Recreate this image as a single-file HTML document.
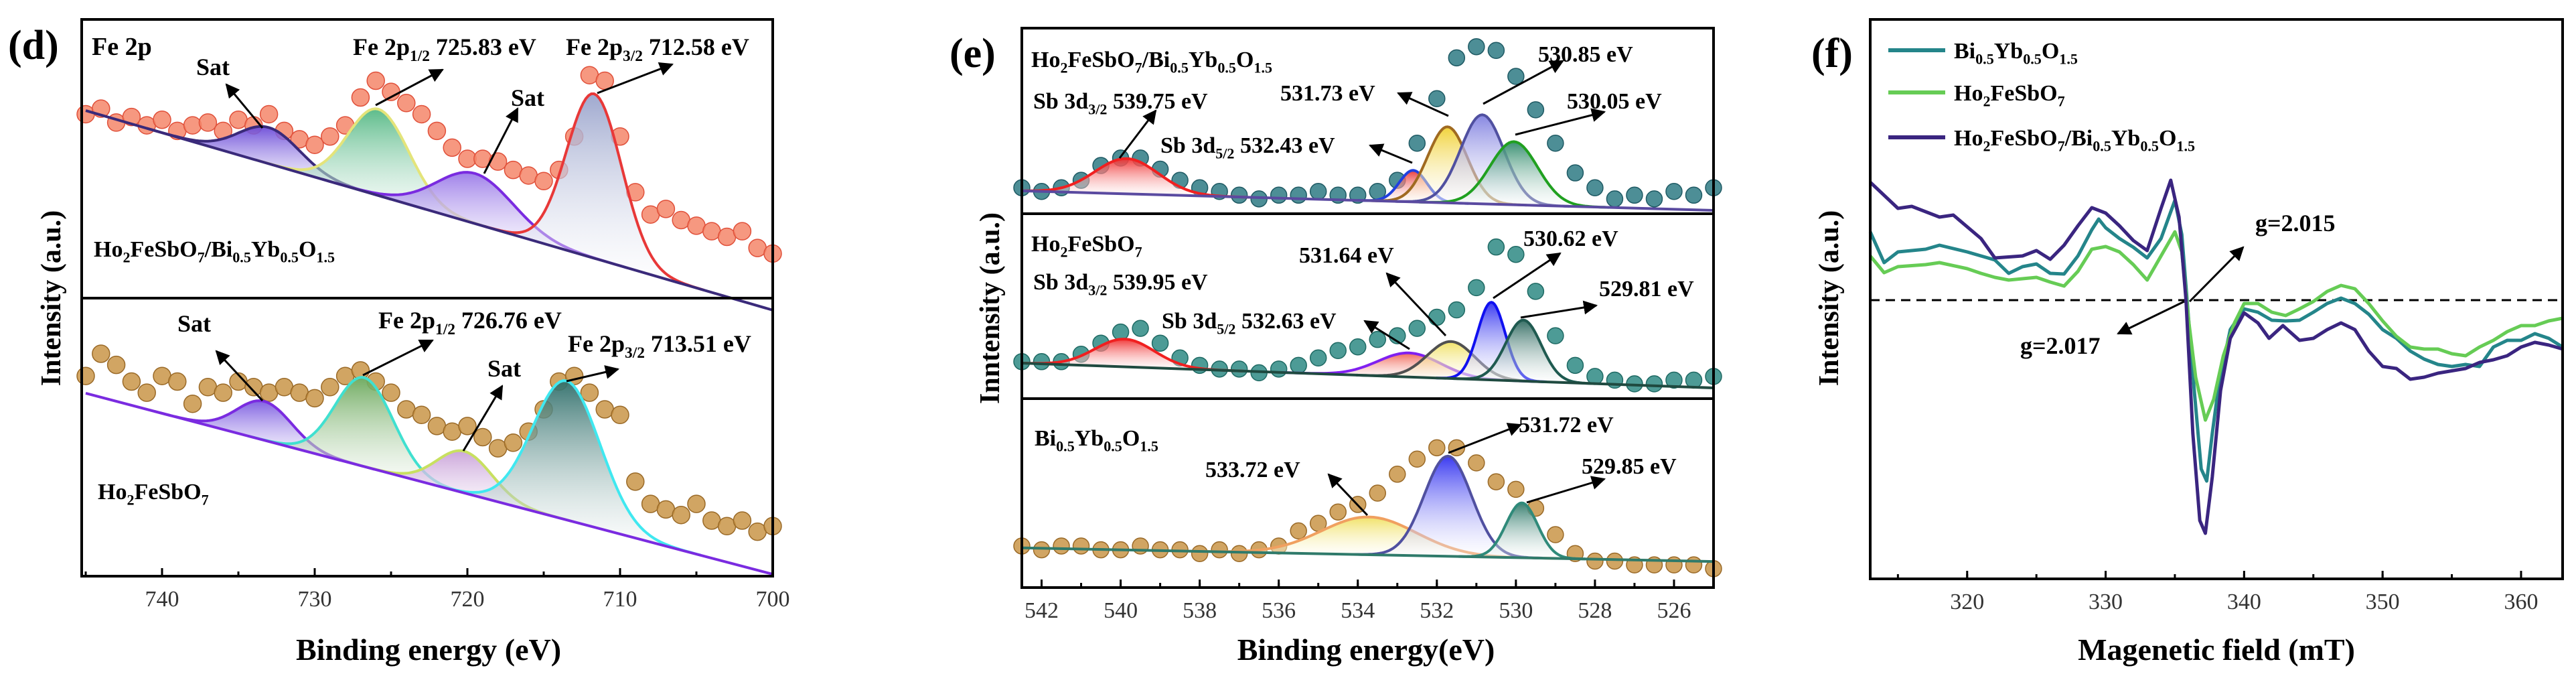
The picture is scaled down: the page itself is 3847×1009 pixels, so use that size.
<!DOCTYPE html>
<html><head><meta charset="utf-8"><style>
html,body{margin:0;padding:0;background:#fff;}
svg{display:block;}
svg text, svg tspan{font-family:"Liberation Serif","Times New Roman","Nimbus Roman","DejaVu Serif",serif !important;}
</style></head><body>
<svg id="fig" width="3847" height="1009" viewBox="0 0 3847 1009" xmlns="http://www.w3.org/2000/svg">
<defs>
<marker id="ah" viewBox="0 0 10 10" refX="9" refY="5" markerWidth="7" markerHeight="7" orient="auto-start-reverse"><path d="M0,0 L10,5 L0,10 z" fill="#000"/></marker>
</defs>
</svg>
<script>
// ---------- DATA ----------
const dEnergy = [745,744,743,742,741,740,739,738,737,736,735,734,733,732,731,730,729,728,727,726,725,724,723,722,721,720,719,718,717,716,715,714,713,712,711,710,709,708,707,706,705,704,703,702,701,700];
const dTopData = [66,68,63,65,62,64,60,62,63,60,64,62,66,60,57,55,58,62,72,78,74,70,66,60,54,50,50,49,46,44,42,46,58,80,78,58,38,30,32,28,26,24,22,24,18,16];
const dBotData = [72,80,76,70,66,72,70,62,68,66,70,68,66,68,66,64,68,72,74,70,66,60,58,54,52,54,50,46,48,52,60,70,72,66,60,58,34,26,24,22,26,20,18,20,16,18];
const dTopBase = [67.3,-4.3];
const dBotBase = [65.8,0.7];
const dTopCenters = [733,725.83,719.5,711.7];
const dTopHeights = [13,31,18,59];
const dTopWidths = [2.0,2.0,2.5,1.8];
const dBotCenters = [733.3,726.76,720.2,713.51];
const dBotHeights = [14,32,15,50];
const dBotWidths = [1.8,1.9,1.8,2.2];
const dTicks = [740,730,720,710,700];
const dTickLabels = ["740","730","720","710","700"];

const eEnergy = [542.5,542,541.5,541,540.5,540,539.5,539,538.5,538,537.5,537,536.5,536,535.5,535,534.5,534,533.5,533,532.5,532,531.5,531,530.5,530,529.5,529,528.5,528,527.5,527,526.5,526,525.5,525];
const eTopData = [14,12,14,18,26,30,30,24,18,14,12,10,8,10,10,12,10,10,12,18,38,62,84,90,88,74,56,38,22,14,8,10,8,12,10,14];
const eMidData = [20,20,20,24,30,36,38,30,22,18,16,16,14,16,18,22,26,28,32,34,38,44,48,60,82,78,58,34,18,12,10,8,8,10,10,12];
const eBotData = [22,20,22,22,20,20,22,20,20,18,20,18,20,22,30,34,40,44,50,60,68,74,74,66,56,52,42,28,18,14,14,12,12,12,12,10];
const eTopBase = [12.3,1.8];
const eMidBase = [19.2,5.8];
const eBotBase = [21,13.8];
const eTopCenters = [539.85,532.6,531.73,530.85,530.05];
const eTopHeights = [19,17,41,48,34];
const eTopWidths = [0.8,0.35,0.5,0.55,0.6];
const eMidCenters = [539.9,532.7,531.64,530.62,529.81];
const eMidHeights = [15,13,20,42,33];
const eMidWidths = [0.75,0.8,0.6,0.35,0.45];
const eBotCenters = [533.72,531.72,529.85];
const eBotHeights = [20,53,29];
const eBotWidths = [1.2,0.6,0.4];
const eTicks = [542,540,538,536,534,532,530,528,526];
const eTickLabels = ["542","540","538","536","534","532","530","528","526"];

const fPurpleX = [313,315,316,318,319,321,322,324,325,326,327,328,329,330,331,332,333,334,334.7,335.3,335.8,336.3,336.8,337.2,337.7,338.3,339,340,341,341.8,342.8,344,345,346,347,348,349,350,351,352,353,354,356,357,358,359,360,361,362,363];
const fPurpleY = [17.6,13.7,14,12.4,12.7,9.2,6.3,6.6,7.4,6.1,8.2,11.1,13.8,13,11.1,8.9,7.4,13.7,17.9,12.4,0.1,-19.9,-32.9,-34.8,-26.4,-13.5,-5.7,-1.9,-3.4,-5.7,-3.8,-6,-5.7,-4.4,-3.4,-4.4,-7.6,-9.9,-10.2,-11.8,-11.5,-10.9,-10.2,-9.3,-8.9,-8.3,-7,-6.3,-6.7,-7.3];
const fTealX = [313,314,315,317,318,320,321,322,323,324,325,326,327,328,329,329.5,330,331,332,333,334,335,335.5,335.9,336.4,336.9,337.3,337.7,338.2,339,340,341,342,343,344,345,346,347,348,349,350,351,352,353,354,355,356,357,358,359,360,361,362,363];
const fTealY = [10.2,5.6,7.2,7.6,8.2,7.2,6.6,6,4,5,5.4,4,3.9,6.6,10.5,12.1,10.8,9.2,7.9,6.3,9.2,14.9,9.8,-0.5,-13.5,-25.2,-27,-19.9,-12.2,-4.4,-1.3,-1.8,-3,-3.1,-3,-1.8,-0.5,0.3,-0.5,-2.1,-4.4,-5.7,-7.6,-8.8,-9.6,-9.9,-9.6,-9.9,-7,-6,-6,-5,-5.7,-7];
const fGreenX = [313,314,315,317,318,320,321,322,323,325,326,327,328,329,330,331,332,333,334,335,335.5,336,336.5,337.2,337.8,338.5,339.3,340,341,342,343,344,345,346,347,348,349,350,351,352,353,354,355,356,357,358,359,360,361,362,363];
const fGreenY = [6.6,4.1,5,5.3,5.6,4.7,4,3.4,3,3.4,2.7,2.1,4.3,7.6,8,7.2,5.3,3,6.6,10.2,7.2,-3.1,-11.5,-17.9,-14.8,-8.3,-3.4,-0.5,-0.5,-1.8,-2.3,-1.3,-0.2,1.3,2.2,1.7,-0.5,-3.1,-5.4,-7,-7.3,-7.3,-8,-8.3,-7,-6,-4.7,-3.8,-3.8,-3.1,-2.7];
const fTicks = [320,330,340,350,360];
const fTickLabels = ["320","330","340","350","360"];

// ---------- DRAWING ----------
const NS = "http://www.w3.org/2000/svg";
const SERIF = "'Liberation Serif', 'Times New Roman', 'DejaVu Serif', serif";
const svg = document.getElementById('fig');
function el(tag, attrs, parent){ const e=document.createElementNS(NS,tag); for(const k in attrs) e.setAttribute(k,attrs[k]); (parent||svg).appendChild(e); return e; }
function lin(d0,d1,r0,r1){ return v => r0 + (v-d0)/(d1-d0)*(r1-r0); }
function gauss(x,c,h,w){ return h*Math.exp(-0.5*((x-c)/w)**2); }
let gid=0;
function grad(color){ const g=el('linearGradient',{id:'g'+(++gid),x1:0,y1:0,x2:0,y2:1},svg.querySelector('defs')); el('stop',{offset:'0','stop-color':color,'stop-opacity':'0.95'},g); el('stop',{offset:'1','stop-color':'#ffffff','stop-opacity':'0.3'},g); return 'url(#g'+gid+')'; }

function drawSub(name, energies, data, base, centers, heights, widths, xs, ys, ptFill, ptStroke, fills, edges, baseColor, r){
  const g = el('g',{});  
  const e0=energies[0], e1=energies[energies.length-1];
  const bl = v => base[0] + (v-e0)/(e1-e0)*(base[1]-base[0]);
  const pg = el('g',{},g);  
  for(let i=0;i<energies.length;i++){
    const c = el('circle',{cx:xs(energies[i]),cy:ys(data[i]),r:r,fill:ptFill,stroke:ptStroke,'stroke-width':1.5,'fill-opacity':0.85},pg);
    
    
  }
  for(let k=0;k<centers.length;k++){
    const c=centers[k],h=heights[k],w=widths[k];
    const lo=Math.max(Math.min(e0,e1),c-4*w), hi=Math.min(Math.max(e0,e1),c+4*w);
    let top=[], bot=[];
    for(let s=0;s<=80;s++){ const x=lo+(hi-lo)*s/80; top.push(xs(x).toFixed(1)+','+ys(bl(x)+gauss(x,c,h,w)).toFixed(1)); bot.push(xs(x).toFixed(1)+','+ys(bl(x)).toFixed(1)); }
    const a = el('polygon',{points:top.concat(bot.reverse()).join(' '),fill:grad(fills[k]),stroke:'none'},g);
    
    
    const l = el('polyline',{points:top.join(' '),fill:'none',stroke:edges[k],'stroke-width':4},g);
    
    
  }
  const b = el('line',{x1:xs(e0),y1:ys(bl(e0)),x2:xs(e1),y2:ys(bl(e1)),stroke:baseColor,'stroke-width':4},g);
  
  
}

function text(str, x, y, size, opts){
  opts=opts||{};
  const t = el('text',{x:x,y:y,'font-size':size,'font-weight':opts.w||'bold','text-anchor':opts.a||'start',fill:'#000'});
  t.style.fontFamily = SERIF;
  if(opts.rot) t.setAttribute('transform','rotate(-90 '+x+' '+y+')');
  const parts = str.split(/(_\{[^}]*\})/);
  parts.forEach(p=>{
    if(!p) return;
    if(p.startsWith('_{')){ const s=el('tspan',{'font-size':size*0.65,dy:size*0.25},t); s.textContent=p.slice(2,-1); const s2=el('tspan',{'font-size':size,dy:-size*0.25},t); s2.textContent='\u200b'; }
    else { const s=el('tspan',{},t); s.textContent=p; }
  });
  
  
  return t;
}
function arrow(x1,y1,x2,y2){ const a=el('line',{x1:x1,y1:y1,x2:x2,y2:y2,stroke:'#000','stroke-width':3,'marker-end':'url(#ah)'});   }
function frame(name,x0,y0,x1,y1){ const r=el('rect',{x:x0,y:y0,width:x1-x0,height:y1-y0,fill:'none',stroke:'#000','stroke-width':4});   }
function xAxis(name,xs,ticks,labels,minor,y,lo,hi){
  const g=el('g',{});  
  ticks.forEach((v,i)=>{ el('line',{x1:xs(v),y1:y,x2:xs(v),y2:y-12,stroke:'#000','stroke-width':3},g);
    const t=el('text',{x:xs(v),y:y+45,'font-size':34,'text-anchor':'middle',fill:'#333'},g); t.style.fontFamily=SERIF; t.textContent=labels[i];   });
  for(let v=lo; v<=hi+1e-9; v+=minor){ el('line',{x1:xs(v),y1:y,x2:xs(v),y2:y-7,stroke:'#000','stroke-width':3},g); }
}

// ===== Panel d =====
const xd = lin(745,700,128,1154);
const ydT = lin(0,100,445,29), ydB = lin(0,100,860,445);
drawSub('d-top-spectrum',dEnergy,dTopData,dTopBase,dTopCenters,dTopHeights,dTopWidths,xd,ydT,'#f5866a','#e0503a',['#6a4ad8','#54b884','#9a7ae8','#9aa4cc'],['#3a2a7a','#e4e47a','#7a2be0','#e83838'],'#3a2a7a',13);
drawSub('d-bottom-spectrum',dEnergy,dBotData,dBotBase,dBotCenters,dBotHeights,dBotWidths,xd,ydB,'#c99548','#9a6a28',['#7a5ae0','#6aa85a','#c8a0d8','#2f6e6a'],['#7a2be0','#40e0d0','#c8e060','#40e8f0'],'#7a2be0',13);
frame('d-frame',122,29,1154,860);
el('line',{x1:122,y1:445,x2:1154,y2:445,stroke:'#000','stroke-width':4});
xAxis('d-x-axis',xd,dTicks,dTickLabels,5,860,700,745);
text('(d)',12,88,62,{name:'panel-label-d'});
text('Fe 2p',137,82,38,{name:'d-title'});
text('Fe 2p_{1/2} 725.83 eV',527,82,36);
text('Fe 2p_{3/2} 712.58 eV',845,82,36);
text('Sat',293,112,36); text('Sat',763,158,36);
text('Ho_{2}FeSbO_{7}/Bi_{0.5}Yb_{0.5}O_{1.5}',140,383,34,{name:'d-sample-label-composite'});
text('Sat',265,495,36);
text('Fe 2p_{1/2} 726.76 eV',565,490,36);
text('Sat',728,562,36);
text('Fe 2p_{3/2} 713.51 eV',848,525,36);
text('Ho_{2}FeSbO_{7}',146,745,34,{name:'d-sample-label'});
arrow(392,191,338,126); arrow(561,157,661,104); arrow(723,259,773,162); arrow(892,139,1004,96);
arrow(392,598,323,524); arrow(542,560,646,508); arrow(692,673,750,576); arrow(846,569,923,551);
text('Intensity (a.u.)',90,445,42,{rot:true,a:'middle',name:'d-y-axis-title'});
text('Binding energy (eV)',640,985,46,{a:'middle',name:'d-x-axis-title'});

// ===== Panel e =====
const xe = lin(542.5,525,1526,2559);
const yeT = lin(0,100,319,42), yeM = lin(0,100,595,319), yeB = lin(0,100,877,595);
drawSub('e-top-spectrum',eEnergy,eTopData,eTopBase,eTopCenters,eTopHeights,eTopWidths,xe,yeT,'#2e7a84','#1f5a64',['#f03030','#e83030','#f0d030','#8080e0','#2f8a6a'],['#f02020','#2040e0','#a06a20','#5050a0','#20a020'],'#5a4aa0',12);
drawSub('e-mid-spectrum',eEnergy,eMidData,eMidBase,eMidCenters,eMidHeights,eMidWidths,xe,yeM,'#2e8a84','#1f6a64',['#f03030','#f06050','#f0e060','#3030f0','#2f6a60'],['#f02020','#8020f0','#505050','#1010f0','#1f5a50'],'#1f4a40',12);
drawSub('e-bottom-spectrum',eEnergy,eBotData,eBotBase,eBotCenters,eBotHeights,eBotWidths,xe,yeB,'#c99548','#9a6a28',['#f0e060','#3030f0','#2f7a6a'],['#f0a060','#5050a0','#2f8a7a'],'#2f7a6a',12);
frame('e-frame',1526,42,2559,877);
el('line',{x1:1526,y1:319,x2:2559,y2:319,stroke:'#000','stroke-width':4});
el('line',{x1:1526,y1:595,x2:2559,y2:595,stroke:'#000','stroke-width':4});
xAxis('e-x-axis',xe,eTicks,eTickLabels,1,877,525,542);
text('(e)',1418,100,62,{name:'panel-label-e'});
text('Ho_{2}FeSbO_{7}/Bi_{0.5}Yb_{0.5}O_{1.5}',1540,100,34);
text('Sb 3d_{3/2} 539.75 eV',1543,162,34);
text('Sb 3d_{5/2} 532.43 eV',1733,228,34);
text('531.73 eV',1912,150,34); text('530.85 eV',2297,92,34); text('530.05 eV',2340,162,34);
text('Ho_{2}FeSbO_{7}',1540,375,34);
text('Sb 3d_{3/2} 539.95 eV',1543,432,34);
text('Sb 3d_{5/2} 532.63 eV',1735,490,34);
text('531.64 eV',1940,392,34); text('530.62 eV',2275,367,34); text('529.81 eV',2388,442,34);
text('Bi_{0.5}Yb_{0.5}O_{1.5}',1545,665,34);
text('533.72 eV',1800,712,34); text('531.72 eV',2268,645,34); text('529.85 eV',2362,707,34);
arrow(1672,236,1726,165); arrow(2109,243,2046,217); arrow(2163,173,2088,139); arrow(2215,155,2334,91); arrow(2263,201,2396,167);
arrow(2105,521,2038,479); arrow(2159,501,2071,408); arrow(2230,445,2330,378); arrow(2271,474,2384,456);
arrow(2042,769,1984,708); arrow(2163,676,2271,634); arrow(2280,750,2396,715);
text('Inntensity (a.u.)',1492,460,42,{rot:true,a:'middle',name:'e-y-axis-title'});
text('Binding energy(eV)',2040,985,46,{a:'middle',name:'e-x-axis-title'});

// ===== Panel f =====
const xf = lin(313,363,2793,3827);
const yf = lin(0,10,448,348);
const zl = el('line',{x1:2793,y1:yf(0),x2:3827,y2:yf(0),stroke:'#000','stroke-width':3,'stroke-dasharray':'14,9'});
 
function fLine(name,xsArr,ysArr,color){ const p=el('polyline',{points:xsArr.map((v,i)=>xf(v).toFixed(1)+','+yf(ysArr[i]).toFixed(1)).join(' '),fill:'none',stroke:color,'stroke-width':5,'stroke-linejoin':'round'});   }
fLine('series-bi-yb-o',fTealX,fTealY,'#24858a');
fLine('series-ho2fesbo7',fGreenX,fGreenY,'#66cc55');
fLine('series-composite',fPurpleX,fPurpleY,'#3a2580');
frame('f-frame',2793,29,3827,864);
xAxis('f-x-axis',xf,fTicks,fTickLabels,5,864,315,360);
text('(f)',2705,100,62,{name:'panel-label-f'});
const lg=[['Bi_{0.5}Yb_{0.5}O_{1.5}','#24858a',75],['Ho_{2}FeSbO_{7}','#66cc55',138],['Ho_{2}FeSbO_{7}/Bi_{0.5}Yb_{0.5}O_{1.5}','#3a2580',205]];
lg.forEach(L=>{ const l=el('line',{x1:2820,y1:L[2],x2:2905,y2:L[2],stroke:L[1],'stroke-width':6});   text(L[0],2918,L[2]+12,34,{name:'legend-entry'}); });
text('g=2.015',3368,345,36); text('g=2.017',3017,528,36);
arrow(3270,450,3350,369); arrow(3262,450,3163,498);
text('Intensity (a.u.)',2745,445,42,{rot:true,a:'middle',name:'f-y-axis-title'});
text('Magenetic field (mT)',3310,985,46,{a:'middle',name:'f-x-axis-title'});
</script>
</body></html>
